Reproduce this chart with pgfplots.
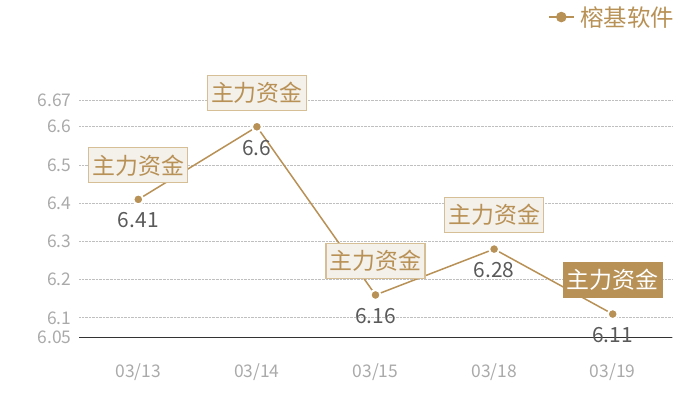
\documentclass[border=0pt]{standalone}
\usepackage{pgfplots}
\pgfplotsset{compat=1.18}
\usepackage{fontspec}
\setmainfont{Noto Sans CJK SC}
\definecolor{gold}{RGB}{184,145,86}
\definecolor{boxfill}{RGB}{244,240,234}
\definecolor{boxdraw}{RGB}{214,190,150}
\definecolor{ticktxt}{RGB}{170,170,170}
\definecolor{valtxt}{RGB}{90,90,90}

\begin{document}
\begin{tikzpicture}[x=1bp,y=1bp]
\begin{axis}[
    scale only axis, width=593bp, height=237bp,
    xmin=-0.5, xmax=4.5,
    ymin=6.05, ymax=6.67,
    xtick={0,1,2,3,4},
    xticklabels={03/13,03/14,03/15,03/18,03/19},
    ytick={6.05,6.1,6.2,6.3,6.4,6.5,6.6,6.67},
    yticklabels={6.05,6.1,6.2,6.3,6.4,6.5,6.6,6.67},
    axis lines*=left,
    y axis line style={draw=none},
    x axis line style={draw=black!80, line width=1bp, -},
    major tick length=0pt,
    ymajorgrids,
    grid style={densely dotted, draw=black!25, line width=0.8bp},
    tick label style={text=ticktxt, font=\fontsize{17.5}{17.5}\selectfont},
    xticklabel style={anchor=center, yshift=-35bp},
    yticklabel style={anchor=east, xshift=-4bp},
    /pgf/number format/assume math mode=true,
    clip=false,
    legend style={at={(axis description cs:0.791,1.350)}, anchor=west,
        draw=none, fill=none, text=gold, font=\fontsize{23.5}{23.5}\selectfont,
        inner sep=0pt, outer sep=0pt},
    legend image code/.code={
        \draw[gold, line width=1.5bp] (0bp,0bp) -- (25bp,0bp);
        \fill[gold] (12.5bp,0bp) circle (4.5bp);
        \path (29bp,0bp);
    },
]

% price line
\addplot[color=gold, line width=1.5bp, mark=*, mark size=5bp,
    mark options={fill=gold, draw=white, line width=2bp},
    nodes near coords,
    every node near coord/.style={anchor=center, yshift=-21bp, text=valtxt,
        font=\fontsize{21}{21}\selectfont, /pgf/number format/assume math mode=true}]
    coordinates {(0,6.41) (1,6.6) (2,6.16) (3,6.28) (4,6.11)};
\addlegendentry{榕基软件}

% annotation boxes
\addplot[draw=none, forget plot, nodes near coords={主力资金},
    every node near coord/.style={anchor=center, yshift=34bp, fill=boxfill,
        draw=boxdraw, line width=1.2bp, text=gold, inner sep=0pt,
        minimum width=99bp, minimum height=35bp,
        font=\fontsize{23}{23}\selectfont}]
    coordinates {(0,6.41) (1,6.6) (2,6.16) (3,6.28)};
\addplot[draw=none, forget plot, nodes near coords={主力资金},
    every node near coord/.style={anchor=center, yshift=34bp, fill=gold,
        draw=gold, line width=1.2bp, text=white, inner sep=0pt,
        minimum width=99bp, minimum height=35bp,
        font=\fontsize{23}{23}\selectfont}]
    coordinates {(4,6.11)};
\end{axis}
\pgfresetboundingbox
\path (-79,-63) rectangle (621,337);
\end{tikzpicture}
\end{document}
